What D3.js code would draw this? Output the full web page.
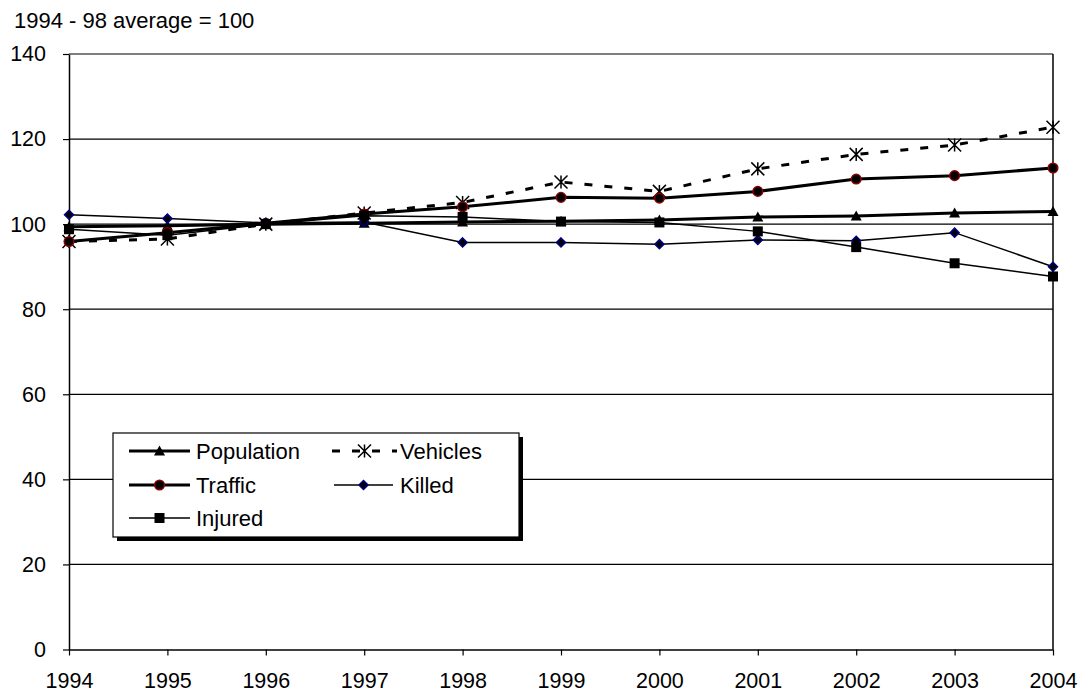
<!DOCTYPE html>
<html>
<head>
<meta charset="utf-8">
<script src="https://cdn.jsdelivr.net/npm/d3@7"></script>
<style>
  html, body { margin: 0; padding: 0; background: #fff; }
  svg { display: block; font-family: "Liberation Sans", Arial, sans-serif; }
</style>
</head>
<body>
<svg id="chart" width="1082" height="693"></svg>
<script>
const years = [1994, 1995, 1996, 1997, 1998, 1999, 2000, 2001, 2002, 2003, 2004];
const population = [99.4, 99.6, 100.0, 100.2, 100.5, 100.7, 101.0, 101.7, 101.9, 102.6, 103.0];
const vehicles   = [95.9, 96.5, 100.0, 102.6, 105.1, 109.9, 107.7, 113.0, 116.4, 118.6, 122.8];
const traffic    = [95.9, 98.0, 100.2, 102.4, 104.1, 106.3, 106.1, 107.7, 110.6, 111.4, 113.2];
const killed     = [102.2, 101.3, 100.3, 100.5, 95.7, 95.7, 95.3, 96.3, 96.1, 98.0, 90.0];
const injured    = [98.8, 97.4, 100.0, 102.0, 101.7, 100.6, 100.4, 98.3, 94.6, 90.8, 87.7];
const yTicks = [0, 20, 40, 60, 80, 100, 120, 140];
const titleText = "1994 - 98 average = 100";

const seriesNames = ["Population", "Vehicles", "Traffic", "Killed", "Injured"];
const seriesValues = [population, vehicles, traffic, killed, injured];
const styles = {
  Population: {width: 3, dash: null, marker: "triangle"},
  Vehicles:   {width: 3, dash: "8,12", marker: "star"},
  Traffic:    {width: 3, dash: null, marker: "circle"},
  Killed:     {width: 1.5, dash: null, marker: "diamond"},
  Injured:    {width: 1.5, dash: null, marker: "square"}
};

const svg = d3.select("#chart");
const pLeft = 69, pRight = 1053, pTop = 54, pBottom = 649.5;
const x = d3.scaleLinear().domain([1994, 2004]).range([pLeft, pRight]);
const y = d3.scaleLinear().domain([0, 140]).range([pBottom, pTop]);

const font = 21.5;

// title
svg.append("text").attr("x", 14).attr("y", 28).attr("font-size", 22).attr("fill", "#000").text(titleText);

// gridlines
svg.append("g").selectAll("line").data(yTicks.filter(d => d > 0)).join("line")
  .attr("x1", pLeft).attr("x2", pRight)
  .attr("y1", d => y(d)).attr("y2", d => y(d))
  .attr("stroke", "#000").attr("stroke-width", 1.2);

// right border
svg.append("line").attr("x1", pRight).attr("x2", pRight).attr("y1", pTop).attr("y2", pBottom)
  .attr("stroke", "#000").attr("stroke-width", 1.5);

// axes
const yAxis = svg.append("g").attr("transform", `translate(${pLeft},0)`)
  .call(d3.axisLeft(y).tickValues(yTicks).tickSize(6).tickPadding(17).tickSizeOuter(0));
const xAxis = svg.append("g").attr("transform", `translate(0,${pBottom})`)
  .call(d3.axisBottom(x).tickValues(years).tickFormat(d3.format("d")).tickSize(6).tickPadding(17).tickSizeOuter(0));
[yAxis, xAxis].forEach(a => {
  a.select(".domain").attr("stroke", "#000").attr("stroke-width", 1.5);
  a.selectAll(".tick line").attr("stroke", "#000").attr("stroke-width", 1.2);
  a.selectAll(".tick text").attr("font-size", font).attr("font-family", "Liberation Sans, Arial, sans-serif").attr("fill", "#000");
});

// marker drawing
function drawMarker(g, type, cx, cy) {
  if (type === "triangle") {
    g.append("path").attr("d", `M${cx},${cy-5.5}L${cx+5.5},${cy+4.5}L${cx-5.5},${cy+4.5}Z`).attr("fill", "#000");
  } else if (type === "circle") {
    g.append("circle").attr("cx", cx).attr("cy", cy).attr("r", 4.8)
      .attr("fill", "#000").attr("stroke", "#8B0000").attr("stroke-width", 1.5);
  } else if (type === "diamond") {
    g.append("path").attr("d", `M${cx},${cy-4.5}L${cx+4.5},${cy}L${cx},${cy+4.5}L${cx-4.5},${cy}Z`)
      .attr("fill", "#000").attr("stroke", "#000080").attr("stroke-width", 1.5);
  } else if (type === "square") {
    g.append("rect").attr("x", cx-5).attr("y", cy-5).attr("width", 10).attr("height", 10).attr("fill", "#000");
  } else if (type === "star") {
    const s = 6.5;
    g.append("path").attr("d", `M${cx-s},${cy-s}L${cx+s},${cy+s}M${cx-s},${cy+s}L${cx+s},${cy-s}M${cx},${cy-s}L${cx},${cy+s}`)
      .attr("stroke", "#000").attr("stroke-width", 1.5).attr("fill", "none");
  }
}

const line = d3.line().x((d, i) => x(years[i])).y(d => y(d));
const plot = svg.append("g");
seriesNames.forEach((name, k) => {
  const st = styles[name];
  const g = plot.append("g");
  g.append("path").attr("d", line(seriesValues[k]))
    .attr("fill", "none").attr("stroke", "#000").attr("stroke-width", st.width)
    .attr("stroke-dasharray", st.dash);
  seriesValues[k].forEach((v, i) => drawMarker(g, st.marker, x(years[i]), y(v)));
});

// legend
const lg = svg.append("g");
const lx = 113, ly = 433, lw = 406, lh = 104;
lg.append("rect").attr("x", lx + 4).attr("y", ly + 4).attr("width", lw).attr("height", lh).attr("fill", "#000");
lg.append("rect").attr("x", lx).attr("y", ly).attr("width", lw).attr("height", lh)
  .attr("fill", "#fff").attr("stroke", "#000").attr("stroke-width", 1.2);
const legendPos = [
  {name: "Population", x1: 129, x2: 190, tx: 196, ty: 451},
  {name: "Vehicles",   x1: 332, x2: 397, tx: 400, ty: 451},
  {name: "Traffic",    x1: 129, x2: 190, tx: 196, ty: 485},
  {name: "Killed",     x1: 334, x2: 393, tx: 400, ty: 485},
  {name: "Injured",    x1: 129, x2: 190, tx: 196, ty: 518}
];
legendPos.forEach(p => {
  const st = styles[p.name];
  lg.append("line").attr("x1", p.x1).attr("x2", p.x2).attr("y1", p.ty).attr("y2", p.ty)
    .attr("stroke", "#000").attr("stroke-width", st.width).attr("stroke-dasharray", st.dash);
  drawMarker(lg, st.marker, (p.x1 + p.x2) / 2, p.ty);
  lg.append("text").attr("x", p.tx).attr("y", p.ty).attr("dy", "0.36em")
    .attr("font-size", 22).attr("fill", "#000").text(p.name);
});
</script>
</body>
</html>
